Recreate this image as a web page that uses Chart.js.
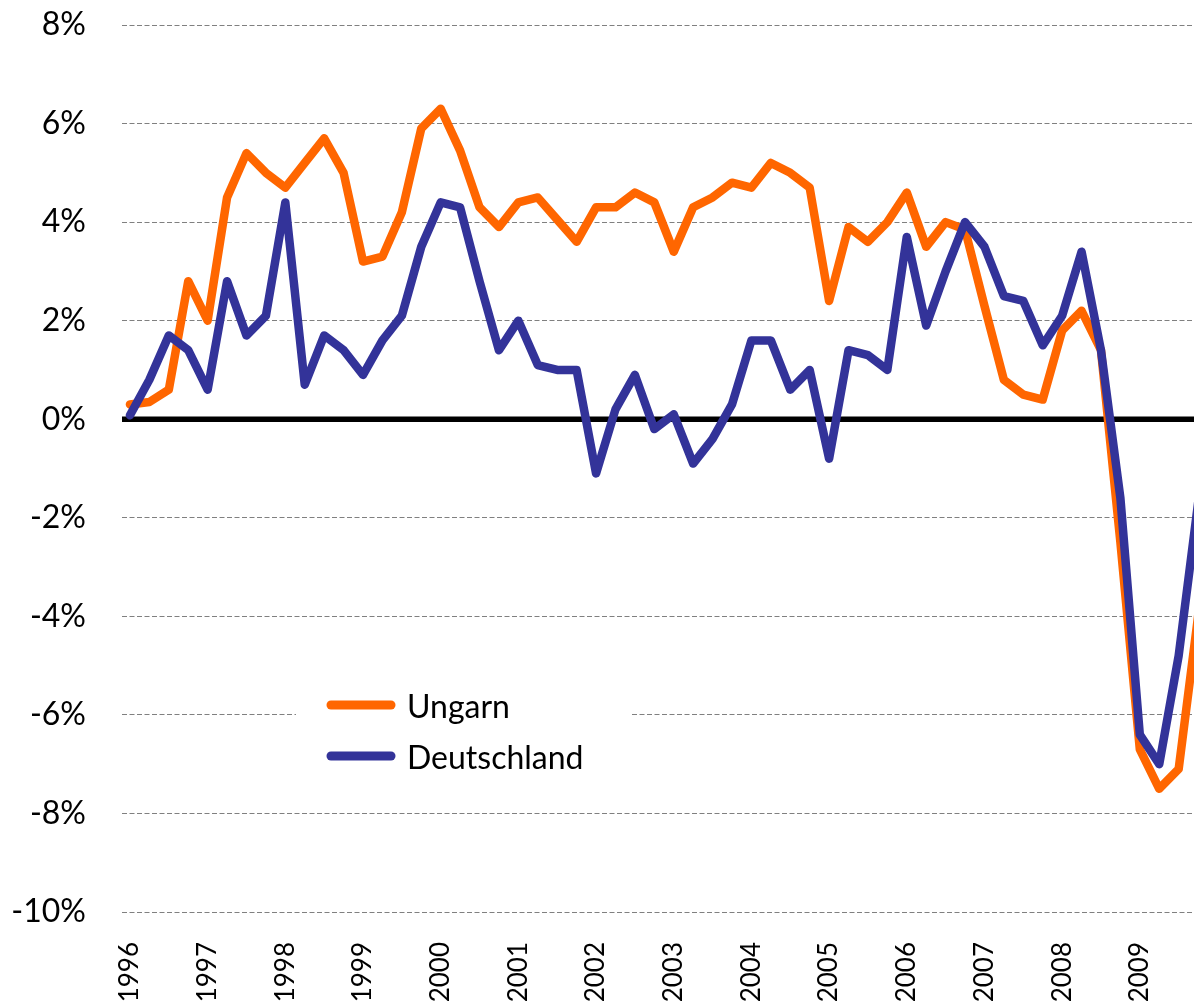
<!DOCTYPE html>
<html>
<head>
<meta charset="utf-8">
<script src="https://cdn.jsdelivr.net/npm/chart.js@4.4.0/dist/chart.umd.min.js"></script>
<style>
  html, body { margin: 0; padding: 0; background: #fff; overflow: hidden; }
</style>
</head>
<body>
<canvas id="myChart" width="1194" height="1002"></canvas>
<script>
var years = ["1996", "1997", "1998", "1999", "2000", "2001", "2002",
  "2003", "2004", "2005", "2006", "2007", "2008", "2009"];

// one category per quarter, 1996 Q1 .. 2009 Q4
var quarters = [];
years.forEach(function (y) {
  ["Q1", "Q2", "Q3", "Q4"].forEach(function (q) { quarters.push(y + " " + q); });
});

var ungarn = [0.3, 0.35, 0.6, 2.8, 2.0, 4.5, 5.4, 5.0, 4.7, 5.2, 5.7, 5.0,
  3.2, 3.3, 4.2, 5.9, 6.3, 5.45, 4.3, 3.9, 4.4, 4.5, 4.05, 3.6,
  4.3, 4.3, 4.6, 4.4, 3.4, 4.3, 4.5, 4.8, 4.7, 5.2, 5.0, 4.7,
  2.4, 3.9, 3.6, 4.0, 4.6, 3.5, 4.0, 3.85, 2.3, 0.8, 0.5, 0.4,
  1.8, 2.2, 1.4, -2.5, -6.7, -7.5, -7.1, -4.0];

var deutschland = [0.08, 0.8, 1.7, 1.4, 0.6, 2.8, 1.7, 2.1, 4.4, 0.7, 1.7, 1.4,
  0.9, 1.6, 2.1, 3.5, 4.4, 4.3, 2.8, 1.4, 2.0, 1.1, 1.0, 1.0,
  -1.1, 0.2, 0.9, -0.2, 0.1, -0.9, -0.4, 0.3, 1.6, 1.6, 0.6, 1.0,
  -0.8, 1.4, 1.3, 1.0, 3.7, 1.9, 3.0, 4.0, 3.5, 2.5, 2.4, 1.5,
  2.1, 3.4, 1.4, -1.6, -6.4, -7.0, -4.8, -1.7];

function toPoints(arr) {
  return arr.map(function (v, i) { return { x: i, y: v }; });
}

// thick black line at 0%, under the series
var zeroLine = {
  id: "zeroLine",
  beforeDatasetsDraw: function (chart) {
    var ctx = chart.ctx, a = chart.chartArea;
    var y = chart.scales.y.getPixelForValue(0);
    ctx.save();
    ctx.strokeStyle = "#000";
    ctx.lineWidth = 5.5;
    ctx.beginPath();
    ctx.moveTo(a.left, y);
    ctx.lineTo(a.right, y);
    ctx.stroke();
    ctx.restore();
  }
};

// legend box sitting inside the plot, lower left
var boxLegend = {
  id: "boxLegend",
  afterDraw: function (chart) {
    var ctx = chart.ctx;
    ctx.save();
    ctx.fillStyle = "#fff";
    ctx.fillRect(296, 680, 334, 100);
    chart.data.datasets.forEach(function (ds, i) {
      var y = 705 + i * 51;
      ctx.strokeStyle = ds.borderColor;
      ctx.lineWidth = 9;
      ctx.lineCap = "round";
      ctx.beginPath();
      ctx.moveTo(331, y);
      ctx.lineTo(391, y);
      ctx.stroke();
      ctx.fillStyle = "#000";
      ctx.font = "32px Lato";
      ctx.textBaseline = "alphabetic";
      ctx.fillText(ds.label, 407, y + 13);
    });
    ctx.restore();
  }
};

new Chart("myChart", {
  type: "line",
  data: {
    labels: quarters,
    datasets: [
      {
        label: "Ungarn",
        data: toPoints(ungarn),
        borderColor: "#ff6600",
        borderWidth: 8.5,
        order: 1
      },
      {
        label: "Deutschland",
        data: toPoints(deutschland),
        borderColor: "#333399",
        borderWidth: 8.5,
        order: 0
      }
    ]
  },
  options: {
    responsive: false,
    animation: false,
    devicePixelRatio: 1,
    layout: { padding: { top: 25, right: 0, left: 0, bottom: 0 } },
    elements: {
      point: { radius: 0 },
      line: { tension: 0, borderJoinStyle: "round", borderCapStyle: "round" }
    },
    plugins: {
      legend: { display: false },
      tooltip: { enabled: false }
    },
    scales: {
      x: {
        type: "linear",
        min: -0.41,
        max: 54.79,
        grid: { display: false },
        border: { display: false },
        afterBuildTicks: function (s) {
          s.ticks = years.map(function (y, i) { return { value: i * 4 }; });
        },
        afterFit: function (s) {
          s.height = 90;
          s.paddingLeft = 0;
          s.paddingRight = 0;
        },
        ticks: {
          autoSkip: false,
          maxRotation: 90,
          minRotation: 90,
          padding: 22,
          color: "#000",
          font: { family: "Lato", size: 26 },
          callback: function (v) { return years[v / 4]; }
        }
      },
      y: {
        min: -10,
        max: 8,
        afterFit: function (s) {
          s.width = 122;
          s.paddingTop = 0;
          s.paddingBottom = 0;
        },
        grid: {
          drawTicks: true,
          tickLength: 36,
          tickColor: "rgba(0,0,0,0)",
          lineWidth: 1,
          color: function (c) {
            return c.tick && c.tick.value === 0 ? "rgba(0,0,0,0)" : "#808080";
          }
        },
        border: { display: false, dash: [5, 2.5] },
        ticks: {
          stepSize: 2,
          padding: 0,
          color: "#000",
          font: { family: "Lato", size: 32 },
          callback: function (v) { return v + "%"; }
        }
      }
    }
  },
  plugins: [zeroLine, boxLegend]
});
</script>
</body>
</html>
